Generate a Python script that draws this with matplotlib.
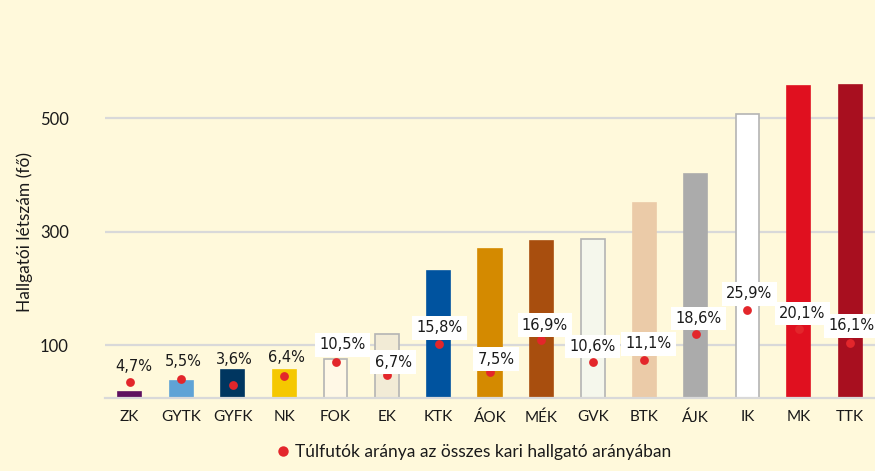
import matplotlib.pyplot as plt
import numpy as np
from matplotlib.lines import Line2D

# kari adatok
faculties = ['ZK', 'GYTK', 'GYFK', 'NK', 'FOK', 'EK', 'KTK', 'ÁOK', 'MÉK', 'GVK', 'BTK', 'ÁJK', 'IK', 'MK', 'TTK']
students = [17, 37, 56, 56, 76, 119, 230, 269, 283, 287, 350, 401, 507, 556, 559]
overrun_pct = [4.7, 5.5, 3.6, 6.4, 10.5, 6.7, 15.8, 7.5, 16.9, 10.6, 11.1, 18.6, 25.9, 20.1, 16.1]
pct_labels = ['4,7%', '5,5%', '3,6%', '6,4%', '10,5%', '6,7%', '15,8%', '7,5%', '16,9%',
              '10,6%', '11,1%', '18,6%', '25,9%', '20,1%', '16,1%']

bar_colors = ['#5E1060', '#5FA3D6', '#003660', '#F5C800', '#FFF8E6', '#F2EBD6', '#00539F', '#D48A00',
              '#A84E0E', '#F5F7EC', '#EBCBA8', '#ABABAB', '#FFFFFF', '#E0101F', '#A80F1F']
outlined = ['FOK', 'EK', 'GVK', 'IK']
boxed = [False] * 4 + [True] * 11
# címkék eltolása pixelben (dx, dy) a ponthoz képest
label_dx = [4, 2, 2, 2, 7, 6, 1, 6, 3.5, 0, 4, 3, 2, 3.5, 1]
label_dy = [15, 17.5, 25.5, 18, 17, 12.6, 16, 13, 15, 15, 16, 16, 16, 16, 17]

bg = '#FFF9DB'
dot = '#E3262B'
plt.rcParams['font.family'] = ['Lato', 'DejaVu Sans']

fig = plt.figure(figsize=(8.75, 4.71), dpi=100, facecolor=bg)
ax = fig.add_axes([0.12, 0.156, 0.88, 0.78])
ax.set_facecolor(bg)

x = np.arange(len(faculties))
for i in range(len(faculties)):
    edge = '#B4B4B4' if faculties[i] in outlined else bar_colors[i]
    ax.bar(x[i], students[i], width=0.45, bottom=0, color=bar_colors[i], edgecolor=edge,
           linewidth=1.2, zorder=2)

ax.set_ylim(8, 655)
ax.set_xlim(-0.48, len(faculties) - 0.52)
ax.set_yticks([100, 300, 500])
ax.yaxis.grid(True, color='#D9D9D9', linewidth=1.6, zorder=0)
ax.set_axisbelow(True)
for s in ['top', 'right', 'left']:
    ax.spines[s].set_visible(False)
ax.spines['bottom'].set_color('#D9D9D9')
ax.spines['bottom'].set_linewidth(1.6)
ax.tick_params(axis='y', length=0, pad=26, labelsize=12, labelcolor='#1A1A1A')
ax.tick_params(axis='x', length=0, pad=9, labelsize=11, labelcolor='#1A1A1A')
ax.set_xticks(x)
ax.set_xticklabels(faculties)
ax.set_ylabel('Hallgatói létszám (fő)', fontsize=12.5, color='#1A1A1A')
ax.yaxis.set_label_coords(-0.094, 0.45)

# másodlagos tengely a százalékokhoz
ax2 = ax.twinx()
ax2.set_ylim(0, 108.4)
ax2.axis('off')
ax2.scatter(x, overrun_pct, s=40, color=dot, zorder=4, linewidths=0)
px2pt = 72 / 100
for i in range(len(faculties)):
    bbox = dict(boxstyle='square,pad=0.3', fc='white', ec='none') if boxed[i] else None
    ax2.annotate(pct_labels[i], (x[i], overrun_pct[i]),
                 xytext=(label_dx[i] * px2pt, label_dy[i] * px2pt), textcoords='offset points',
                 ha='center', va='center', fontsize=10.5, family='DejaVu Sans', color='#1A1A1A',
                 bbox=bbox, zorder=5)

handle = Line2D([], [], marker='o', linestyle='none', markersize=7.5, color=dot, markeredgewidth=0)
fig.legend([handle], ['Túlfutók aránya az összes kari hallgató arányában'], loc='lower center',
           bbox_to_anchor=(0.54, -0.01), frameon=False, fontsize=12.5, handletextpad=0.2,
           handlelength=1.0, labelcolor='#1A1A1A')

fig.savefig('out.png', dpi=100, facecolor=bg)
